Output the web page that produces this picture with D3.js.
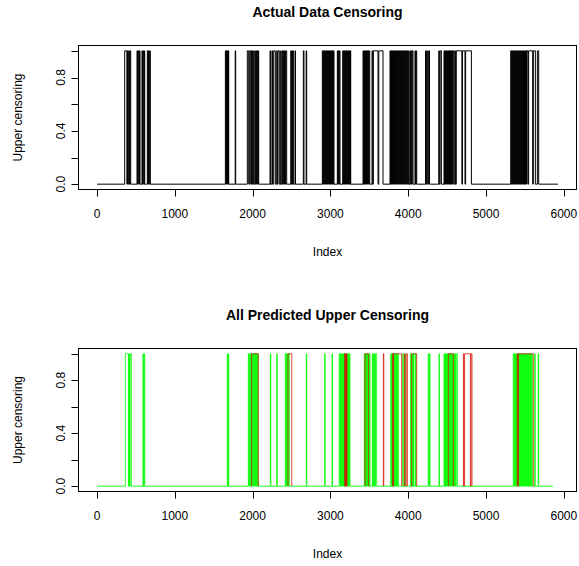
<!DOCTYPE html>
<html>
<head>
<meta charset="utf-8">
<script src="https://cdn.jsdelivr.net/npm/d3@7"></script>
<style>
  body { margin: 0; background: #fff; }
  svg text { font-family: "Liberation Sans", Arial, sans-serif; fill: #000; }
</style>
</head>
<body>
<svg id="chart" width="579" height="566"></svg>
<script>
// --- data: index ranges where the 0/1 series equals 1 ---
const actualN = 5925;
const actualOn = [
  [356,384],[392,400],[408,416],[424,433],
  [514,522],[530,538],[545,553],
  [578,586],[594,602],[608,613],
  [647,655],[662,670],[678,685],
  [1650,1658],[1664,1672],[1678,1686],[1690,1693],
  [1776,1782],
  [1932,1950],[1962,1976],[1985,1992],[2000,2010],[2027,2035],[2043,2051],[2060,2068],[2072,2078],
  [2224,2232],[2249,2256],[2271,2292],[2310,2318],[2326,2343],[2361,2366],[2378,2386],[2395,2402],[2410,2418],[2424,2438],
  [2490,2498],[2506,2514],[2518,2523],[2545,2551],
  [2652,2660],[2688,2695],
  [2896,2903],[2909,2916],[2922,2929],[2935,2942],[2948,2955],[2961,2968],[2974,2981],[2987,2994],[3000,3007],[3013,3020],[3026,3033],[3039,3046],
  [3089,3096],[3102,3109],[3115,3123],
  [3158,3165],[3171,3178],[3184,3191],[3197,3204],[3210,3217],[3223,3230],[3236,3243],[3249,3256],[3258,3261],
  [3419,3426],[3432,3439],[3445,3452],[3458,3465],[3471,3478],[3484,3491],[3497,3505],
  [3535,3543],[3552,3612],[3622,3676],
  [3766,3773],[3779,3786],[3792,3799],[3805,3812],[3818,3825],[3831,3838],[3844,3851],[3857,3864],[3870,3877],[3883,3890],[3896,3903],[3909,3916],[3922,3929],[3935,3942],[3948,3955],[3961,3968],[3974,3981],[3987,3994],[4005,4012],[4025,4032],[4038,4045],[4051,4062],
  [4087,4093],[4102,4109],
  [4222,4230],[4238,4246],[4262,4274],
  [4393,4400],[4410,4426],
  [4460,4467],[4473,4480],[4486,4493],[4499,4506],[4512,4519],[4525,4532],[4538,4545],[4551,4558],[4564,4571],[4577,4589],[4600,4606],[4618,4690],[4698,4730],[4738,4812],
  [5318,5325],[5331,5338],[5344,5351],[5357,5364],[5370,5377],[5383,5390],[5396,5403],[5409,5416],[5422,5429],[5435,5442],[5448,5455],[5461,5468],[5474,5481],[5487,5494],[5500,5507],[5513,5520],[5526,5540],
  [5548,5600],[5608,5634],
  [5660,5677]
];

const greenN = 5861;
const greenOn = [
  [364,404],[410,418],[425,441],
  [591,598],[606,613],
  [1675,1683],[1688,1693],
  [1945,1952],[1958,1965],[1971,1978],[1984,1991],[1997,2004],[2010,2017],[2023,2030],[2036,2043],[2049,2056],[2062,2073],
  [2228,2234],[2310,2316],
  [2420,2427],[2433,2440],[2446,2453],[2459,2472],
  [2690,2696],
  [2926,2932],[3021,3027],
  [3114,3121],[3127,3134],[3140,3147],[3153,3160],[3166,3173],[3179,3186],[3192,3199],[3205,3212],[3218,3225],[3231,3238],[3244,3252],
  [3436,3443],[3449,3456],[3462,3469],[3475,3482],[3488,3495],[3501,3509],
  [3539,3546],[3552,3559],[3565,3572],[3578,3595],
  [3775,3782],[3788,3795],[3801,3808],[3814,3821],[3827,3834],[3840,3847],[3853,3860],[3866,3873],
  [3929,3936],[3956,3963],
  [4031,4038],[4044,4051],[4057,4064],[4068,4074],[4094,4100],
  [4258,4265],[4273,4280],
  [4396,4402],
  [4460,4467],[4473,4480],[4486,4493],[4499,4506],[4512,4519],[4525,4532],[4538,4545],[4551,4558],[4564,4571],[4577,4584],[4590,4597],[4603,4610],[4616,4631],
  [5351,5358],[5364,5371],[5377,5384],[5390,5397],[5403,5410],[5416,5423],[5429,5436],[5442,5449],[5455,5462],[5468,5475],[5481,5488],[5494,5501],[5507,5514],[5520,5527],[5533,5540],[5546,5553],[5559,5566],[5572,5579],[5585,5595],
  [5626,5632],[5671,5677]
];

const redOn = [
  [1988,2073],
  [2455,2503],
  [3183,3190],[3196,3203],[3207,3213],
  [3445,3488],
  [3680,3686],
  [3800,3806],[3812,3916],
  [3950,3958],[3975,3989],[4045,4109],
  [4516,4580],
  [4709,4716],[4725,4800],[4808,4820],
  [5402,5410],[5415,5608]
];

const xTicks = [0, 1000, 2000, 3000, 4000, 5000, 6000];
const yTicks = [0, 0.2, 0.4, 0.6, 0.8, 1.0];
const yLabels = [0, 0.4, 0.8];

const svg = d3.select("#chart");

// full 0/1 series as a path through its on ranges
function seriesPoints(on, n) {
  const pts = [[1, 0]];
  on.forEach(([a, b]) => { pts.push([a, 0], [a, 1], [b, 1], [b, 0]); });
  pts.push([n, 0]);
  return pts;
}

function panel(top, bottom, title) {
  const left = 78.5, right = 576.5;
  const x = d3.scaleLinear().domain([-238, 6163]).range([left, right]);
  const y = d3.scaleLinear().domain([-0.04, 1.04]).range([bottom, top]);
  const g = svg.append("g");

  g.append("rect")
    .attr("x", left).attr("y", top)
    .attr("width", right - left).attr("height", bottom - top)
    .attr("fill", "none").attr("stroke", "#000").attr("stroke-width", 1);

  // x axis
  g.append("line")
    .attr("x1", x(0)).attr("x2", x(6000))
    .attr("y1", bottom).attr("y2", bottom)
    .attr("stroke", "#000");
  xTicks.forEach(t => {
    g.append("line")
      .attr("x1", Math.round(x(t)) + 0.5).attr("x2", Math.round(x(t)) + 0.5)
      .attr("y1", bottom).attr("y2", bottom + 7)
      .attr("stroke", "#000");
    g.append("text")
      .attr("x", x(t)).attr("y", bottom + 28)
      .attr("text-anchor", "middle")
      .style("font-size", "12px")
      .text(t);
  });

  // y axis
  yTicks.forEach(t => {
    g.append("line")
      .attr("x1", left - 7).attr("x2", left)
      .attr("y1", Math.round(y(t)) + 0.5).attr("y2", Math.round(y(t)) + 0.5)
      .attr("stroke", "#000");
  });
  yLabels.forEach(t => {
    g.append("text")
      .attr("transform", `translate(${left - 14},${y(t)}) rotate(-90)`)
      .attr("text-anchor", "middle")
      .style("font-size", "12px")
      .text(d3.format(".1f")(t));
  });

  g.append("text")
    .attr("x", (left + right) / 2).attr("y", bottom + 66)
    .attr("text-anchor", "middle")
    .style("font-size", "12px")
    .text("Index");

  g.append("text")
    .attr("transform", `translate(22,${(top + bottom) / 2}) rotate(-90)`)
    .attr("text-anchor", "middle")
    .style("font-size", "12px")
    .text("Upper censoring");

  g.append("text")
    .attr("x", (left + right) / 2).attr("y", top - 29)
    .attr("text-anchor", "middle")
    .style("font-size", "14px")
    .style("font-weight", "bold")
    .text(title);

  return {g, x, y};
}

// --- Panel 1 ---
const p1 = panel(45.5, 189.5, "Actual Data Censoring");
const line1 = d3.line().x(d => p1.x(d[0])).y(d => p1.y(d[1]));
p1.g.append("path")
  .datum(seriesPoints(actualOn, actualN))
  .attr("fill", "none")
  .attr("stroke", "#000")
  .attr("stroke-width", 1)
  .attr("d", line1);

// --- Panel 2 ---
const p2 = panel(348.5, 491.5, "All Predicted Upper Censoring");
const line2 = d3.line().x(d => p2.x(d[0])).y(d => p2.y(d[1]));
p2.g.append("path")
  .datum(seriesPoints(greenOn, greenN))
  .attr("fill", "none")
  .attr("stroke", "#00ff00")
  .attr("stroke-opacity", 0.85)
  .attr("stroke-width", 1)
  .attr("d", line2);

// red prediction drawn only where it is on
redOn.forEach(([a, b]) => {
  p2.g.append("path")
    .datum([[a, 0], [a, 1], [b, 1], [b, 0]])
    .attr("fill", "none")
    .attr("stroke", "#d81000")
    .attr("stroke-opacity", 0.75)
    .attr("stroke-width", 1)
    .attr("d", line2);
});
</script>
</body>
</html>
